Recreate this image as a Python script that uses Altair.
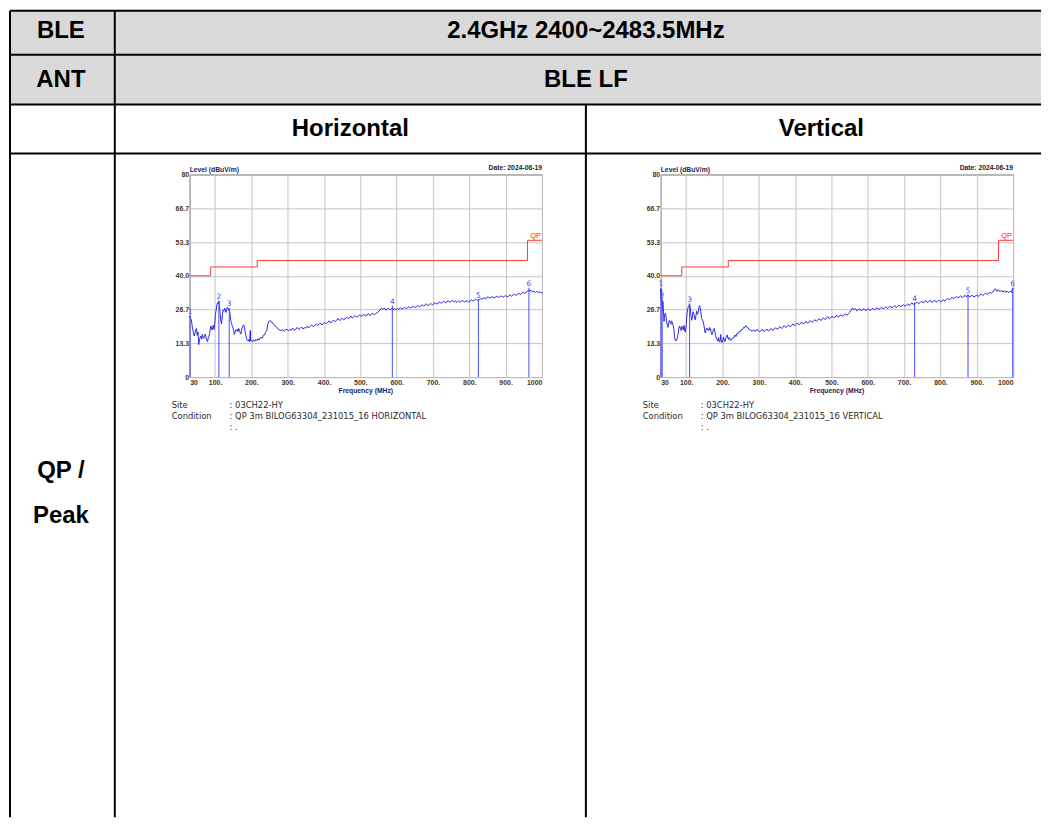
import altair as alt
import pandas as pd

# ---------------- chart values ----------------
H_FREQ = [30, 31, 33, 35, 37, 39, 41, 43, 45, 47, 49, 51, 53, 55, 57, 59, 61, 63, 65, 67,
          69, 71, 73, 75, 77, 79, 81, 83, 85, 87, 89, 91, 93, 95, 97, 99, 101, 103, 105, 107,
          109, 110.5, 112, 114, 116, 118, 120, 122, 124, 126, 128, 130, 132, 134, 136, 138, 139, 141, 143, 145,
          147, 149, 151, 153, 155, 157, 159, 161, 163, 165, 167, 169, 171, 173, 175, 177, 179, 181, 183, 185,
          187, 189, 191, 193, 195, 197, 198, 200, 203, 206, 209, 212, 215, 218, 221, 224, 227, 230, 233, 236,
          239, 242, 245, 248, 251, 254, 257, 260, 263, 266, 270, 274, 278, 282, 286, 290, 294,
          298, 302, 306, 310, 314, 318, 322, 326, 330, 334, 338, 342, 346, 350, 354, 358, 362, 366, 370, 374,
          378, 382, 386, 390, 394, 398, 402, 406, 410, 414, 418, 422, 426, 430, 434, 438, 442, 446, 450, 454,
          458, 462, 466, 470, 474, 478, 482, 486, 490, 494, 498, 502, 506, 510, 514, 518, 522, 526, 530, 534,
          538, 542, 546, 550, 554, 558, 562, 566, 570, 574, 578, 582, 586, 588, 590, 594, 598, 602, 606, 610,
          614, 618, 622, 626, 630, 634, 638, 642, 646, 650, 654, 658, 662, 666, 670, 674, 678, 682, 686, 690,
          694, 698, 702, 706, 710, 714, 718, 722, 726, 730, 734, 738, 742, 746, 750, 754, 758, 762, 766, 770,
          774, 778, 782, 786, 790, 794, 798, 802, 806, 810, 814, 818, 822, 825, 828, 832, 836, 840, 844, 848,
          852, 856, 860, 864, 868, 872, 876, 880, 884, 888, 892, 896, 900, 904, 908, 912, 916, 920, 924, 928,
          932, 936, 940, 944, 948, 952, 956, 960, 964, 966, 970, 974, 978, 982, 986, 990, 994, 998, 1000]
H_LEVEL = [23.8, 24.2, 23.0, 22.5, 20.0, 18.5, 17.0, 16.2, 17.5, 18.8, 19.2, 16.5, 17.8, 12.8, 14.5, 15.8, 16.2, 15.0, 16.8, 15.6,
           15.2, 16.4, 17.0, 15.8, 14.6, 14.0, 15.2, 16.0, 17.2, 19.4, 20.2, 18.6, 19.0, 20.4, 18.8, 21.0, 24.8, 26.5, 28.6, 29.4,
           29.0, 30.0, 28.2, 25.0, 22.0, 21.0, 24.5, 26.4, 26.0, 27.2, 26.6, 25.5, 26.8, 27.6, 27.0, 26.4, 27.0, 25.2, 22.4, 21.6,
           20.2, 19.8, 18.4, 16.8, 17.6, 18.6, 18.2, 18.9, 18.0, 19.2, 18.5, 17.6, 17.0, 18.6, 19.8, 20.3, 20.6, 19.4, 17.8, 16.4,
           15.0, 14.6, 14.2, 14.8, 14.0, 18.4, 14.2, 14.6, 13.9, 14.7, 14.1, 14.9, 14.4, 15.1, 14.6, 15.5, 15.6, 15.3, 16.5, 16.6,
           17.7, 18.3, 20.8, 21.9, 22.4, 21.8, 21.7, 20.9, 20.7, 20.0, 19.6, 18.9, 18.6, 18.4, 18.7, 18.1, 18.6,
           18.9, 18.2, 18.8, 18.5, 19.3, 18.4, 18.9, 19.6, 18.8, 19.2, 19.8, 19.0, 19.5, 19.3, 20.1, 19.4, 20.0, 20.6, 19.9, 20.3,
           21.0, 20.4, 20.7, 21.4, 20.6, 21.1, 21.6, 21.0, 21.5, 22.2, 21.4, 21.8, 22.5, 21.9, 22.3, 23.1, 22.4, 22.6, 23.3, 22.7,
           23.0, 23.7, 23.1, 23.4, 24.1, 23.3, 23.8, 24.3, 23.6, 24.0, 24.6, 23.9, 24.3, 24.8, 24.1, 24.5, 25.1, 24.3, 24.7, 25.3,
           24.6, 25.0, 25.4, 25.8, 26.5, 27.2, 26.7, 27.3, 26.4, 26.9, 27.2, 26.5, 27.0, 27.5, 26.6, 27.0, 26.5, 27.1, 26.8, 27.3,
           26.9, 27.1, 27.6, 27.0, 27.4, 27.8, 27.2, 27.6, 28.0, 27.4, 27.8, 28.3, 27.7, 28.0, 28.6, 28.0, 28.4, 28.9, 28.2, 28.6,
           29.1, 28.5, 28.9, 29.4, 28.8, 29.2, 29.7, 29.1, 29.4, 30.0, 29.3, 29.7, 30.2, 29.5, 29.9, 30.3, 29.6, 30.0, 29.5, 30.1,
           29.6, 29.9, 30.3, 29.6, 29.9, 30.2, 29.6, 30.0, 30.5, 29.9, 30.3, 30.8, 30.2, 30.6, 30.5, 31.1, 30.7, 31.4, 30.9, 31.3,
           31.7, 31.1, 31.5, 31.8, 31.2, 31.6, 32.0, 31.4, 31.7, 32.1, 31.5, 31.8, 32.2, 31.7, 32.0, 32.5, 31.9, 32.3, 32.8, 32.2,
           32.6, 33.2, 32.6, 33.0, 33.6, 33.0, 33.5, 33.9, 34.5, 33.8, 34.3, 33.6, 34.0, 33.4, 33.9, 33.3, 33.7, 33.2, 33.6]

V_FREQ = [30, 30.5, 31.5, 32.5, 33.5, 34, 35, 36, 37, 38, 39, 40, 42, 44, 46, 48, 50, 52, 54, 56,
          58, 60, 62, 64, 66, 68, 70, 72, 74, 76, 78, 80, 82, 84, 86, 88, 90, 92, 94, 96,
          98, 100, 102, 104, 106, 108, 109.5, 111, 113, 115, 117, 119, 121, 123, 125, 127, 129, 131, 133, 135,
          137, 139, 141, 143, 145, 147, 149, 151, 153, 155, 157, 159, 161, 163, 165, 167, 169, 171, 173, 175,
          177, 179, 181, 183, 185, 187, 189, 191, 193, 195, 197, 199, 201, 203, 205, 207, 209, 211, 213, 215,
          217, 219, 221, 223, 225, 228, 231, 234, 237, 240, 243, 246, 249, 252, 255, 258, 261, 264, 267, 270,
          274, 278, 282, 286, 290, 294,
          298, 302, 306, 310, 314, 318, 322, 326, 330, 334, 338, 342, 346, 350, 354, 358, 362, 366, 370, 374,
          378, 382, 386, 390, 394, 398, 402, 406, 410, 414, 418, 422, 426, 430, 434, 438, 442, 446, 450, 454,
          458, 462, 466, 470, 474, 478, 482, 486, 490, 494, 498, 502, 506, 510, 514, 518, 522, 526, 530, 534,
          538, 542, 546, 550, 554, 558, 562, 566, 570, 574, 578, 582, 586, 590, 594, 598, 602, 606, 610, 614,
          618, 622, 626, 630, 634, 638, 642, 646, 650, 654, 658, 662, 666, 670, 674, 678, 682, 686, 690, 694,
          698, 702, 706, 710, 714, 718, 722, 726, 729, 732, 736, 740, 744, 748, 752, 756, 760, 764, 768, 772,
          776, 780, 784, 788, 792, 796, 800, 804, 808, 812, 816, 820, 824, 828, 832, 836, 840, 844, 848, 852,
          856, 860, 864, 868, 872, 876, 880, 884, 888, 892, 896, 900, 904, 908, 912, 916, 920, 924, 928, 932,
          936, 940, 944, 948, 952, 956, 960, 964, 968, 972, 976, 980, 984, 988, 992, 996, 999, 1000]
V_LEVEL = [33.0, 35.0, 31.0, 34.2, 28.5, 30.5, 26.0, 29.8, 27.0, 24.5, 22.0, 23.5, 25.2, 24.6, 21.8, 20.4, 19.6, 21.6, 22.4, 21.2,
           20.8, 22.2, 21.4, 20.6, 19.0, 15.8, 14.6, 14.2, 15.0, 15.6, 17.2, 19.4, 20.2, 19.2, 18.4, 20.0, 19.6, 18.6, 20.4, 18.2,
           17.8, 20.4, 24.2, 26.8, 27.8, 28.4, 29.0, 27.6, 24.6, 22.4, 23.6, 25.8, 25.0, 23.2, 22.6, 24.4, 26.0, 24.8, 25.6, 27.4,
           28.2, 27.2, 24.8, 23.0, 22.6, 21.8, 20.4, 18.2, 17.4, 18.8, 19.4, 18.6, 19.0, 18.4, 19.6, 19.2, 17.6, 16.8, 17.4, 18.8,
           19.2, 18.0, 16.4, 15.4, 14.8, 14.2, 15.6, 14.0, 13.8, 16.8, 14.2, 13.6, 14.4, 15.8, 14.6, 14.0, 15.2, 16.2, 16.6, 15.4,
           14.8, 15.6, 15.0, 14.4, 14.8, 15.5, 15.5, 16.6, 16.0, 17.2, 17.1, 18.0, 17.9, 18.8, 18.7, 19.6, 19.5, 20.3, 19.7, 19.5,
           18.6, 18.5, 18.1, 18.7, 18.0, 18.8,
           18.5, 17.9, 18.3, 18.8, 18.0, 18.4, 19.0, 18.2, 18.6, 19.2, 18.5, 18.8, 19.5, 18.9, 19.2, 19.9, 19.2, 19.6, 20.3, 19.6,
           19.9, 20.6, 19.9, 20.3, 21.0, 20.3, 20.7, 21.4, 20.7, 21.0, 21.7, 21.0, 21.3, 22.0, 21.3, 21.6, 22.3, 21.6, 22.0, 22.7,
           22.0, 22.4, 23.1, 22.4, 22.7, 23.4, 22.7, 23.1, 23.8, 23.1, 23.4, 24.1, 23.4, 23.7, 24.4, 23.7, 24.0, 24.7, 24.0, 24.3,
           25.0, 24.4, 24.8, 25.5, 26.3, 27.3, 26.6, 27.0, 26.1, 26.6, 26.9, 26.2, 26.6, 27.0, 26.2, 26.6, 27.0, 26.3, 26.7, 27.2,
           26.5, 26.9, 27.4, 26.7, 27.1, 27.6, 26.9, 27.3, 27.8, 27.1, 27.5, 28.0, 27.3, 27.7, 28.2, 27.5, 27.9, 28.4, 27.7, 28.1,
           28.6, 28.0, 28.4, 28.9, 28.3, 28.7, 29.3, 28.6, 29.3, 29.0, 29.6, 29.0, 29.4, 30.0, 29.3, 29.7, 30.2, 29.5, 29.8, 30.3,
           29.5, 29.9, 30.3, 29.6, 29.9, 30.4, 29.7, 30.0, 30.6, 30.0, 30.5, 31.1, 30.5, 30.9, 31.5, 30.9, 31.3, 31.9, 31.3, 31.6,
           32.1, 31.4, 31.8, 32.3, 31.6, 32.5, 31.6, 32.0, 32.3, 31.6, 32.0, 32.4, 31.8, 32.3, 32.8, 32.2, 32.6, 33.2, 32.6, 33.0,
           33.6, 33.0, 33.5, 34.6, 34.8, 33.8, 34.5, 33.7, 34.3, 33.6, 34.1, 33.4, 34.0, 33.3, 33.9, 33.4, 35.2, 34.6]

LIMIT_FREQ = [30, 88, 216, 960, 1000]
LIMIT_LEVEL = [40, 43.5, 46, 54, 54]

MARK_NO = ["1", "2", "3", "4", "5", "6"]
H_MARK_FREQ = [31.0, 110.5, 139.0, 588.0, 825.0, 964.0]
H_MARK_LEVEL = [24.2, 30.2, 27.2, 28.2, 30.5, 35.3]
V_MARK_FREQ = [30.5, 34.0, 109.5, 729.0, 876.0, 999.0]
V_MARK_LEVEL = [35.0, 30.5, 29.0, 29.3, 32.5, 35.2]

X_TICKS = [30, 100, 200, 300, 400, 500, 600, 700, 800, 900, 1000]
Y_TICKS = [0, 13.33, 26.67, 40, 53.33, 66.67, 80]

LEVEL_TITLE = "Level (dBuV/m)"
FREQ_TITLE = "Frequency (MHz)"
DATE_TEXT = "Date: 2024-06-19"
LIMIT_NAME = "QP"
INFO_KEYS = ["Site", "Condition"]
SITE = ": 03CH22-HY"
COND_H = ": QP 3m BILOG63304_231015_16 HORIZONTAL"
COND_V = ": QP 3m BILOG63304_231015_16 VERTICAL"
BLANK = ": ."

TABLE_TEXT = ["BLE", "2.4GHz 2400~2483.5MHz", "ANT", "BLE LF", "Horizontal", "Vertical", "QP /", "Peak"]

# ---------------- layout (pixels, page coordinates) ----------------
OX, OY = 190, 174         # page position of the left plot's frame
W, H = 353, 203           # plot frame size
GAP = 119                 # space between the two frames
LEFT, TOP = 10, 10        # outer table border (vega pads rule bounds by the stroke width)
RIGHT, BOTTOM = 1043, 818


def rel_x(v):
    return v - OX


def rel_y(v):
    return v - OY


def spectrum(freq, level, mfreq, mlevel, cond, extra):
    X = alt.X("f:Q", scale=alt.Scale(domain=[30, 1000], nice=False, zero=False),
              axis=alt.Axis(values=X_TICKS, title=None, ticks=False, domain=False,
                            gridColor="#c4c4c4", gridWidth=1,
                            labelExpr="datum.value == 30 ? '30' : datum.value == 1000 ? '1000' : datum.value + '.'",
                            labelFont="Liberation Sans", labelFontWeight="bold", labelFontSize=7,
                            labelColor="#4a3418", labelPadding=1, labelFlush=True))
    Y = alt.Y("l:Q", scale=alt.Scale(domain=[0, 80], nice=False),
              axis=alt.Axis(values=Y_TICKS, title=None, ticks=False, domain=False,
                            gridColor="#c4c4c4", gridWidth=1,
                            labelExpr="datum.value == 0 ? '0' : datum.value == 80 ? '80' : format(datum.value, '.1f')",
                            labelFont="Liberation Sans", labelFontWeight="bold", labelFontSize=7,
                            labelColor="#4a3418", labelPadding=1))
    tr = pd.DataFrame({"f": freq, "l": level})
    lim = pd.DataFrame({"f": LIMIT_FREQ, "l": LIMIT_LEVEL})
    mk = pd.DataFrame({"f": mfreq, "l": mlevel, "n": MARK_NO})
    qp = pd.DataFrame({"f": [LIMIT_FREQ[-1]], "l": [LIMIT_LEVEL[-1]], "t": [LIMIT_NAME]})

    trace = alt.Chart(tr).mark_line(color="#1414e6", strokeWidth=0.9).encode(x=X, y=Y)
    limit = alt.Chart(lim).mark_line(interpolate="step-after", color="#ff3a3a", strokeWidth=1).encode(x=X, y=Y)
    rules = alt.Chart(mk).mark_rule(color="#4a4aff", strokeWidth=1).encode(x=X, y=Y, y2=alt.datum(0))
    mlab = alt.Chart(mk).mark_text(font="DejaVu Sans", fontSize=7.5, color="#4a4aff",
                                   baseline="alphabetic", dy=-2).encode(x=X, y=Y, text="n:N")
    qplab = alt.Chart(qp).mark_text(font="Liberation Sans", fontSize=7.5, color="#ff2020",
                                    align="right", baseline="alphabetic", dx=-1, dy=-2).encode(x=X, y=Y, text="t:N")

    lvl = alt.Chart(pd.DataFrame({"t": [LEVEL_TITLE]})).mark_text(
        font="Liberation Sans", fontWeight="bold", fontSize=6.8, color="#1c1c5c",
        align="left", baseline="alphabetic").encode(x=alt.value(0), y=alt.value(-2.5), text="t:N")
    date = alt.Chart(pd.DataFrame({"t": [DATE_TEXT]})).mark_text(
        font="Liberation Sans", fontWeight="bold", fontSize=6.8, color="#222222",
        align="right", baseline="alphabetic").encode(x=alt.value(W), y=alt.value(-4), text="t:N")
    fq = alt.Chart(pd.DataFrame({"t": [FREQ_TITLE]})).mark_text(
        font="Liberation Sans", fontWeight="bold", fontSize=6.8, color="#1c1c5c",
        align="center", baseline="middle").encode(x=alt.value(W / 2), y=alt.value(rel_y(390.5)), text="t:N")

    info = pd.DataFrame({
        "t": [INFO_KEYS[0], SITE, INFO_KEYS[1], cond, BLANK],
        "x": [rel_x(172), rel_x(230), rel_x(172), rel_x(230), rel_x(230)],
        "y": [rel_y(405), rel_y(405), rel_y(416), rel_y(416), rel_y(427)],
    })
    inf = alt.Chart(info).mark_text(font="DejaVu Sans", fontSize=8.4, color="#2a2a2a",
                                    align="left", baseline="middle").encode(
        x=alt.X("x:Q", scale=None), y=alt.Y("y:Q", scale=None), text="t:N")

    layers = extra + [limit, trace, rules, mlab, qplab, lvl, date, fq, inf]
    return alt.layer(*layers).properties(width=W, height=H)


# ---------------- table drawn around the left plot ----------------
lines = pd.DataFrame({
    "x":  [LEFT, LEFT, LEFT, LEFT, LEFT, 115, 587],
    "x2": [RIGHT, RIGHT, RIGHT, RIGHT, LEFT, 115, 587],
    "y":  [TOP, 54, 104, 153, TOP, TOP, 104],
    "y2": [TOP, 54, 104, 153, BOTTOM, BOTTOM, BOTTOM],
})
lines = lines.assign(x=lines.x - OX, x2=lines.x2 - OX, y=lines.y - OY, y2=lines.y2 - OY)
fill = pd.DataFrame({"x": [rel_x(LEFT)], "x2": [rel_x(RIGHT)], "y": [rel_y(TOP)], "y2": [rel_y(104)]})
cells = pd.DataFrame({
    "t": TABLE_TEXT,
    "x": [rel_x(v) for v in [61, 587, 61, 587, 351, 823, 61, 61]],
    "y": [rel_y(v) for v in [30, 30, 79.5, 79.5, 128.5, 128.5, 471.5, 516]],
})

tbl_fill = alt.Chart(fill).mark_rect(color="#d9d9d9").encode(
    x=alt.X("x:Q", scale=None), x2="x2", y=alt.Y("y:Q", scale=None), y2="y2")
tbl_lines = alt.Chart(lines).mark_rule(color="#000000", strokeWidth=2).encode(
    x=alt.X("x:Q", scale=None), x2="x2", y=alt.Y("y:Q", scale=None), y2="y2")
tbl_text = alt.Chart(cells).mark_text(font="Liberation Sans", fontWeight="bold", fontSize=24,
                                      color="#000000", align="center", baseline="middle").encode(
    x=alt.X("x:Q", scale=None), y=alt.Y("y:Q", scale=None), text="t:N")

left = spectrum(H_FREQ, H_LEVEL, H_MARK_FREQ, H_MARK_LEVEL, COND_H, [tbl_fill, tbl_lines, tbl_text])
right = spectrum(V_FREQ, V_LEVEL, V_MARK_FREQ, V_MARK_LEVEL, COND_V, [])

chart = alt.hconcat(left, right, spacing=GAP, bounds="flush").properties(
    padding=0, background="white"
).configure_view(stroke="#555555", strokeWidth=1)

chart.save("out.html", embed_options={"renderer": "svg", "actions": False})
